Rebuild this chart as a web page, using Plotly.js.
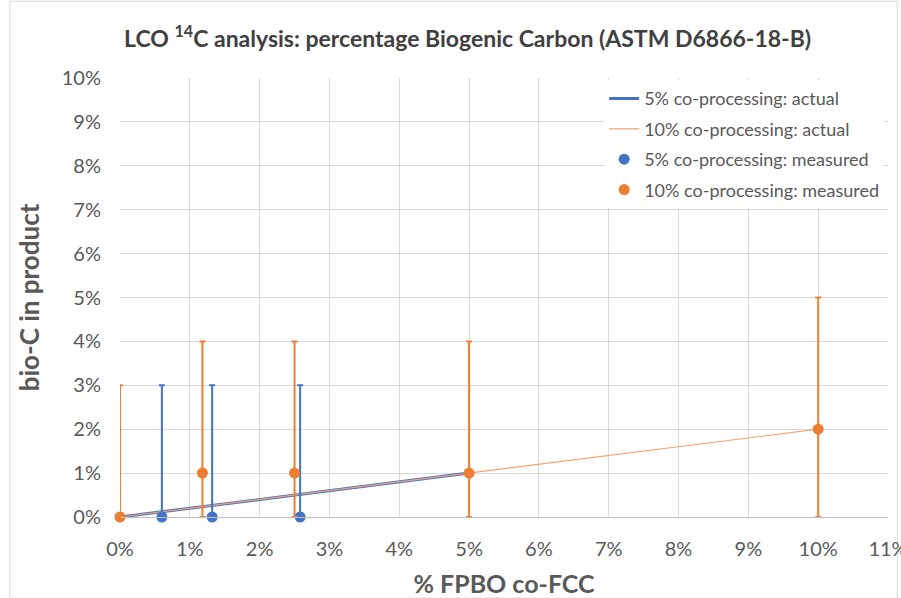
<!DOCTYPE html>
<html><head><meta charset="utf-8">
<script src="https://cdn.plot.ly/plotly-3.0.1.min.js"></script>
<style>html,body{margin:0;padding:0;background:#fff}#chart{width:901px;height:598px}</style>
</head><body><div id="chart"></div>
<script>
// Actual lines
const actual5X = [0, 5];
const actual5Y = [0, 1];
const actual10X = [0, 10];
const actual10Y = [0, 2];
// Measured 5%
const meas5X = [0.6, 1.32, 2.58];
const meas5Y = [0, 0, 0];
const meas5ErrPlus = [3, 3, 3];
const meas5ErrMinus = [0, 0, 0];
// Measured 10%
const meas10X = [0, 1.18, 2.5, 5, 10];
const meas10Y = [0, 1, 1, 1, 2];
const meas10ErrPlus = [3, 3, 3, 3, 3];
const meas10ErrMinus = [0, 1, 1, 1, 2];
const xTicks = [0,1,2,3,4,5,6,7,8,9,10,11];
const yTicks = [0,1,2,3,4,5,6,7,8,9,10];

const blue = '#4472C4', orange = '#ED7D31', lightOrange = '#F4A46C';
const font = 'Lato, "Open Sans", sans-serif';

const traces = [
  {x: actual5X, y: actual5Y, mode: 'lines', name: '5% co-processing: actual', legendgroup: 'a',
   line: {color: blue, width: 3}, cliponaxis: false},
  {x: actual10X, y: actual10Y, mode: 'lines', name: '10% co-processing: actual', legendgroup: 'b',
   line: {color: lightOrange, width: 1.2}, cliponaxis: false},
  {x: meas5X, y: meas5Y, mode: 'markers', name: '5% co-processing: measured', legendgroup: 'c',
   marker: {color: blue, size: 11}, cliponaxis: false,
   error_y: {type: 'data', symmetric: false, array: meas5ErrPlus, arrayminus: meas5ErrMinus,
             color: blue, thickness: 2, width: 3}},
  {x: meas10X, y: meas10Y, mode: 'markers', name: '10% co-processing: measured', legendgroup: 'd',
   marker: {color: orange, size: 11}, cliponaxis: false,
   error_y: {type: 'data', symmetric: false, array: meas10ErrPlus, arrayminus: meas10ErrMinus,
             color: orange, thickness: 2, width: 3}}
];

const layout = {
  width: 901, height: 598,
  margin: {l: 120, r: 13, t: 78, b: 81},
  paper_bgcolor: '#fff', plot_bgcolor: '#fff',
  font: {family: font, color: '#595959'},
  title: {text: 'LCO <sup>14</sup>C analysis: percentage Biogenic Carbon (ASTM D6866-18-B)',
          font: {family: font, size: 23, color: '#404040', weight: 'bold'},
          x: 0.519, xanchor: 'center', y: 0.935, yanchor: 'middle'},
  xaxis: {range: [0, 11], tickvals: xTicks, ticktext: xTicks.map(v => v + '%'),
          showgrid: true, gridcolor: '#d9d9d9', gridwidth: 1, zeroline: false,
          showline: true, linecolor: '#bfbfbf', linewidth: 1, ticks: '',
          ticklabelstandoff: 14, ticklabeloverflow: 'allow',
          tickfont: {size: 20, color: '#595959'},
          title: {text: '% FPBO co-FCC', font: {size: 25, color: '#595959', weight: 'bold'}, standoff: 16}},
  yaxis: {range: [0, 10], tickvals: yTicks, ticktext: yTicks.map(v => v + '%'),
          showgrid: true, gridcolor: '#d9d9d9', gridwidth: 1, zeroline: false,
          showline: false, ticks: '',
          ticklabelstandoff: 18,
          tickfont: {size: 20, color: '#595959'},
          title: {text: 'bio-C in product', font: {size: 26, color: '#595959', weight: 'bold'}, standoff: 14}},
  showlegend: true,
  legend: {x: 0.995, y: 0.995, xanchor: 'right', yanchor: 'top', bgcolor: '#fff',
           font: {size: 18, color: '#595959'}, traceorder: 'grouped', tracegroupgap: 4, itemwidth: 30},
  shapes: [{type: 'rect', xref: 'paper', yref: 'paper', x0: -0.1435, x1: 1.012, y0: -0.185, y1: 1.175,
            line: {color: '#d9d9d9', width: 1}, fillcolor: 'rgba(0,0,0,0)', layer: 'below'}]
};

Plotly.newPlot('chart', traces, layout, {displayModeBar: false, staticPlot: true});
</script></body></html>
